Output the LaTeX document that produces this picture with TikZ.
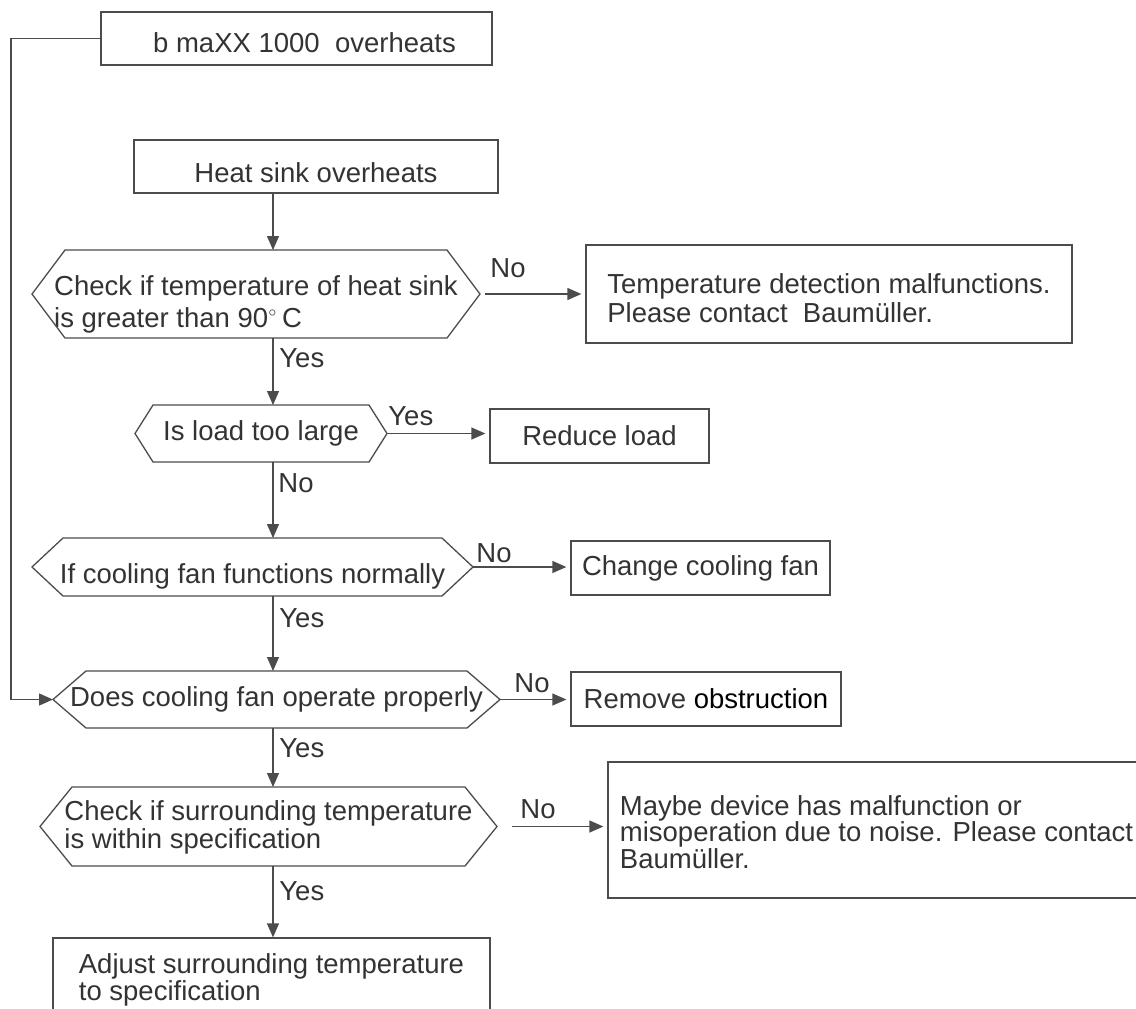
\documentclass[tikz,border=0pt]{standalone}
\usepackage{fontspec}
\setmainfont{Liberation Sans}
\usetikzlibrary{calc, arrows.meta}

\begin{document}
\begin{tikzpicture}[
	x=0.5pt, y=-0.5pt,
	font=\fontsize{13.75pt}{14pt}\selectfont,
	every node/.append style={text=black!80},
	line/.style={draw=black!70, line width=0.65pt},
	box/.style={line, align=left, inner sep=0pt},
	decision/.style={align=left, inner sep=0pt, outer sep=0pt},
	flow/.style={line, -{Triangle[length=7pt, width=6pt]}},
	side/.style={flow, shorten >=2pt},
	lbl/.style={anchor=base west, inner sep=0pt},
]
	\useasboundingbox (0, 0) rectangle (1136, 1008);
	\clip (0, 0) rectangle (1136, 1008);

	% Boxes and decisions, placed at their centres
	\node[box, minimum width=195.5pt, minimum height=26.5pt, text height=14.3pt, text depth=0pt] (top) at (296.5, 38.5)
		{\hspace*{8pt}b maXX 1000\ \ overheats};
	\node[box, minimum width=182pt, minimum height=26.5pt, text height=15.8pt, text depth=0pt] (sink) at (316, 166.5)
		{Heat sink overheats};
	\node[decision, minimum width=224pt, minimum height=44pt, text height=33pt, text depth=0pt] (h1) at (256, 294)
		{Check if temperature of heat sink\\[2pt]is greater than 90$^{\scriptscriptstyle\circ}$\,C};
	\node[box, minimum width=243pt, minimum height=49pt, text height=28pt, text depth=0pt] (detect) at (829, 294)
		{Temperature detection malfunctions.\\[0.5pt]Please contact\ \ Baumüller.};
	\node[decision, minimum width=126pt, minimum height=28.5pt] (h2) at (261, 433.5) {Is load too large};
	\node[box, minimum width=109.5pt, minimum height=27pt] (reduce) at (599.5, 436) {Reduce load};
	\node[decision, minimum width=220.5pt, minimum height=29pt, text height=16.8pt, text depth=0pt] (h3) at (252.5, 567)
		{If cooling fan functions normally};
	\node[box, minimum width=129.5pt, minimum height=27pt] (change) at (700.5, 568) {Change cooling fan};
	\node[decision, minimum width=223.5pt, minimum height=28.5pt] (h4) at (276.5, 699.5) {Does cooling fan operate properly};
	\node[box, minimum width=135pt, minimum height=27pt] (remove) at (706, 699) {Remove \textcolor{black}{obstruction}};
	\node[decision, minimum width=228.5pt, minimum height=39.5pt, text height=21.5pt, text depth=0pt] (h5) at (268.5, 826.5)
		{Check if surrounding temperature\\is within specification};
	\node[box, minimum width=268.5pt, minimum height=68pt, text height=38pt, text depth=0pt] (noise) at (876.5, 830)
		{Maybe device has malfunction or\\[-0.75pt]misoperation due to noise. Please contact\\[-0.75pt]Baumüller.};
	\node[box, minimum width=218.5pt, minimum height=38.5pt, text height=23.5pt, text depth=0pt] (adjust) at (271.5, 976.5)
		{Adjust surrounding temperature\\[-0.5pt]to specification};

	% Decision outlines: pointed at both ends
	\foreach \h/\d in {h1/33, h2/18, h3/31, h4/33, h5/32} {
		\draw[line] (\h.west) -- ($(\h.north west)+(\d,0)$) -- ($(\h.north east)-(\d,0)$) -- (\h.east)
			-- ($(\h.south east)-(\d,0)$) -- ($(\h.south west)+(\d,0)$) -- cycle;
	}

	% Main line down the middle
	\coordinate (spine) at (273, 0);
	\foreach \a/\b in {sink/h1, h1/h2, h2/h3, h3/h4, h4/h5, h5/adjust} {
		\draw[flow] (\a.south -| spine) -- (\b.north -| spine);
	}

	% Side exits to the right
	\draw[side, shorten <=2.5pt] (h1.east) -- (h1.east -| detect.west);
	\draw[side] (h2.east) -- (h2.east -| reduce.west);
	\draw[side] (h3.east) -- (h3.east -| change.west);
	\draw[side] (h4.east) -- (h4.east -| remove.west);
	\draw[side, shorten <=7.5pt] (h5.east) -- (h5.east -| noise.west);

	% Loop back from the first box
	\coordinate (back) at (11, 0);
	\draw[flow] (top.west) -- (top.west -| back) |- (h4.west);

	% Branch labels
	\foreach \n/\t/\x/\y in {no1/No/490/277, yes1/Yes/279/367, yes2/Yes/388/425, no2/No/278/492,
		no3/No/476/562, yes3/Yes/279/627, no4/No/514/692, yes4/Yes/279/757, no5/No/520/818, yes5/Yes/279/900} {
		\node[lbl] (\n) at (\x, \y) {\t};
	}
\end{tikzpicture}
\end{document}
